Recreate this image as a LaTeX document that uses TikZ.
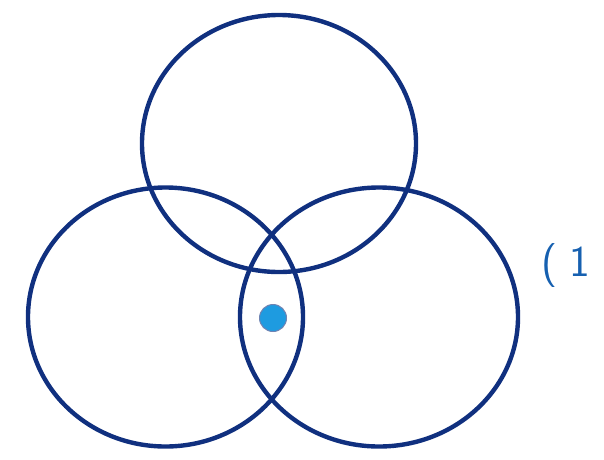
\documentclass[tikz,border=0pt]{standalone}
\usepackage{tikz}
\definecolor{ringblue}{HTML}{10307F}
\definecolor{dotblue}{HTML}{1E9BE0}
\definecolor{labelblue}{HTML}{1660B0}

\begin{document}
\begin{tikzpicture}[x=1pt, y=-1pt,
    ring/.style={draw=ringblue, line width=4.4pt},
    dot/.style={circle, fill=dotblue, draw=ringblue!60, line width=1pt,
                minimum size=27pt, inner sep=0pt},
    tag/.style={text=labelblue, font=\sffamily\fontsize{44}{44}\selectfont, inner sep=0pt}
]
\useasboundingbox (0,0) rectangle (604,459);
% three rings
\draw[ring] (279,143.5) ellipse [x radius=137, y radius=128.5];
\draw[ring] (165.5,317) ellipse [x radius=137.5, y radius=129.5];
\draw[ring] (379,317) ellipse [x radius=139, y radius=129.5];
% common point
\node[dot] (point) at (273,318) {};
\node[tag, anchor=west] (num) at (541,266) {(\hspace{12pt}1};
\end{tikzpicture}
\end{document}
